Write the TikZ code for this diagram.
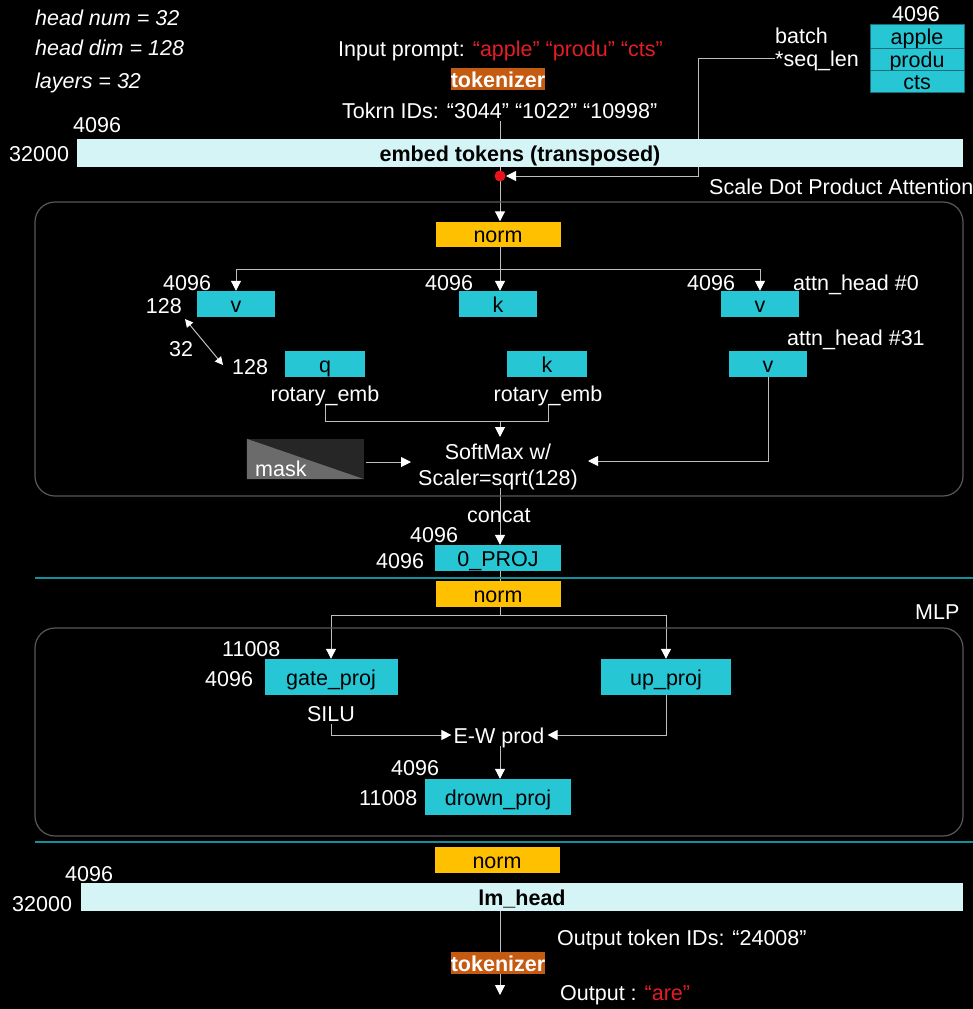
\documentclass[tikz,border=0pt]{standalone}
\usepackage{fontspec}
\setmainfont{Liberation Sans}
\usetikzlibrary{arrows.meta}
\definecolor{boxcyan}{HTML}{26C6D4}
\definecolor{barcyan}{HTML}{D4F4F6}
\definecolor{normgold}{HTML}{FFC000}
\definecolor{tokorange}{HTML}{C55A11}
\definecolor{redtxt}{HTML}{E31E24}
\definecolor{linegray}{HTML}{BFBFBF}
\definecolor{boxgray}{HTML}{595959}
\definecolor{sepcol}{HTML}{12909B}
\definecolor{stackborder}{HTML}{1B6E78}
\definecolor{maskdark}{HTML}{262626}
\definecolor{masklight}{HTML}{6B6B6B}
\definecolor{dotred}{HTML}{E8141C}
\newcommand\myfs{\fontsize{21.5}{26}\selectfont}
\pgfdeclarelayer{back}
\pgfdeclarelayer{bg}
\pgfsetlayers{back,bg,main}
\begin{document}
\begin{tikzpicture}[x=1pt,y=-1pt,
  every node/.style={font=\myfs, text=white, inner sep=0pt, text height=19pt, text depth=3pt},
  lab/.style={anchor=west},
  itx/.style={anchor=west, font=\myfs\itshape},
  cbox/.style={fill=boxcyan, text=black, minimum height=26pt},
  normbox/.style={fill=normgold, text=black, minimum width=125pt, minimum height=25pt},
  tokbox/.style={fill=tokorange, font=\myfs\bfseries, minimum width=94pt, minimum height=22pt},
  bar/.style={fill=barcyan, text=black, font=\myfs\bfseries, minimum height=28pt},
  stackbox/.style={fill=boxcyan, draw=stackborder, line width=1pt, text=black, minimum width=94pt},
  conn/.style={draw=linegray, line width=1pt},
  arr/.style={conn, -{Triangle[width=10pt,length=10pt,color=white]}},
  darr/.style={conn, {Triangle[width=8pt,length=8pt,color=white]}-{Triangle[width=8pt,length=8pt,color=white]}},
  frame/.style={draw=boxgray, line width=1.2pt, rounded corners=20pt},
  sepline/.style={draw=sepcol, line width=1.6pt}
]
\begin{pgfonlayer}{back}
\fill[black] (0,0) rectangle (973,1009);
\end{pgfonlayer}
\useasboundingbox (0,0) rectangle (973,1009);

% top-left parameters
\node[itx] (hn) at (35,17) {head num = 32};
\node[itx] (hd) at (35,47) {head dim = 128};
\node[itx] (ly) at (35,80) {layers = 32};

% input
\node[lab] (inp) at (338,48) {Input prompt: \textcolor{redtxt}{“apple” “produ” “cts”}};
\node[tokbox] (tok1) at (498,79) {tokenizer};
\node[lab] (tokids) at (342,110) {Tokrn IDs: “3044” “1022” “10998”};

% embed
\node[lab] (e4096) at (73,124) {4096};
\node[lab] (e32000) at (9,153) {32000};
\node[bar, minimum width=886pt] (embed) at (520,153) {embed tokens (transposed)};
\coordinate (dot) at (500,176);
\coordinate (dotE) at (506,176);
\coordinate (sj) at (698,58);

% batch stack
\node[lab] (batch) at (775,35) {batch};
\node[lab] (seqlen) at (775,58) {*seq\_len};
\node (s4096) at (916,13) {4096};
\node[stackbox, minimum height=24pt] (sapple) at (917,36) {apple};
\node[stackbox, minimum height=22pt] (sprodu) at (917,59) {produ};
\node[stackbox, minimum height=22pt] (scts) at (917,81) {cts};

\node[lab] (sdpa) at (709,186) {Scale Dot Product Attention};
\draw[frame] (35,202) rectangle (963,496);

\node[normbox] (norm1) at (498,234) {norm};
\coordinate (sp1) at (500,269);

\node[cbox, minimum width=78pt] (v1) at (236,304) {v};
\node[cbox, minimum width=78pt] (k1) at (498,304) {k};
\node[cbox, minimum width=78pt] (v2) at (760,304) {v};
\node[lab] (l1) at (163,282) {4096};
\node[lab] (l2) at (425,282) {4096};
\node[lab] (l3) at (687,282) {4096};
\node[anchor=east] (l128a) at (182,305) {128};
\node[lab] (ah0) at (793,282) {attn\_head \#0};
\node[lab] (l32) at (169,348) {32};
\node[lab] (l128b) at (232,366) {128};
\coordinate (d1) at (185,319);
\coordinate (d2) at (223,365);

\node[cbox, minimum width=80pt] (q) at (325,364) {q};
\node[cbox, minimum width=80pt] (k2) at (547,364) {k};
\node[cbox, minimum width=78pt] (v3) at (768,364) {v};
\node[lab] (ah31) at (787,337) {attn\_head \#31};
\node (rot1) at (325,393) {rotary\_emb};
\node (rot2) at (548,393) {rotary\_emb};
\coordinate (rj) at (500,421);
\coordinate (rtip) at (500,437);

\node (sm1) at (498,451) {SoftMax w/};
\node (sm2) at (498,477) {Scaler=sqrt(128)};
\node[fill=maskdark, minimum width=117pt, minimum height=40pt] (maskbox) at (305.5,459) {};
\fill[masklight] (maskbox.north west) -- (maskbox.south west) -- (maskbox.south east) -- cycle;
\node[lab] (masktxt) at (255,468) {mask};
\coordinate (mtip) at (411,462);
\coordinate (vtip) at (588,461);

% concat / o_proj
\node[lab] (concat) at (467,514) {concat};
\node[lab] (o4096a) at (410,534) {4096};
\node[lab] (o4096b) at (376,560) {4096};
\node[cbox, minimum width=126pt] (oproj) at (498,558) {0\_PROJ};
\draw[sepline] (35,578) -- (973,578);
\node[normbox, minimum height=26pt] (norm2) at (498,594) {norm};

% MLP
\node[lab] (mlp) at (915,611) {MLP};
\draw[frame] (35,628) rectangle (963,836);
\coordinate (sp2) at (500,615);
\node[cbox, minimum width=133pt, minimum height=36pt] (gate) at (331,677) {gate\_proj};
\node[cbox, minimum width=130pt, minimum height=36pt] (up) at (666,677) {up\_proj};
\node[lab] (g11008) at (222,648) {11008};
\node[lab] (g4096) at (205,678) {4096};
\node (silu) at (331,713) {SILU};
\node (ew) at (499,735) {E-W prod};
\node[cbox, minimum width=146pt, minimum height=36pt] (drown) at (498,797) {drown\_proj};
\node[lab] (d4096) at (391,767) {4096};
\node[lab] (d11008) at (359,797) {11008};
\draw[sepline] (35,842) -- (973,842);

% head
\node[normbox, minimum height=26pt] (norm3) at (497,860) {norm};
\node[lab] (h4096) at (65,873) {4096};
\node[lab] (h32000) at (12,903) {32000};
\node[bar, minimum width=882pt] (lmhead) at (522,897) {lm\_head};
\node[lab] (outids) at (557,937) {Output token IDs: “24008”};
\node[tokbox] (tok2) at (498,963) {tokenizer};
\node[lab] (outp) at (560,992) {Output : \textcolor{redtxt}{“are”}};
\coordinate (otip) at (500,995);

% connectors
\begin{pgfonlayer}{bg}
\draw[conn] (tokids.south -| dot) -- (dot);
\draw[arr] (dot) -- (norm1.north -| dot);
\draw[arr] (seqlen.west) -- (sj) |- (dotE);
\draw[conn] (norm1.south -| sp1) -- (sp1);
\draw[arr] (sp1) -| (v1.north);
\draw[arr] (sp1) -- (sp1 |- k1.north);
\draw[arr] (sp1) -| (v2.north);
\draw[darr] (d1) -- (d2);
\draw[conn] (rot1.south) |- (rj);
\draw[conn] (rot2.south) |- (rj);
\draw[arr] (rj) -- (rtip);
\draw[arr] (maskbox.east |- mtip) ++(2,0) -- (mtip);
\draw[arr] (v3.south) |- (vtip);
\draw[arr] (sm2.south -| dot) -- (oproj.north -| dot);
\draw[conn] (oproj.south -| dot) -- (norm2.north -| dot);
\draw[conn] (norm2.south -| sp2) -- (sp2);
\draw[arr] (sp2) -| (gate.north);
\draw[arr] (sp2) -| (up.north);
\draw[arr, shorten >=2pt] (silu.south) |- (ew.west);
\draw[arr, shorten >=3pt] (up.south) |- (ew.east);
\draw[arr] (ew.south -| dot) -- (drown.north -| dot);
\draw[arr] (lmhead.south -| dot) -- (otip);
\end{pgfonlayer}
\fill[dotred] (dot) circle (5.5);
\end{tikzpicture}
\end{document}
